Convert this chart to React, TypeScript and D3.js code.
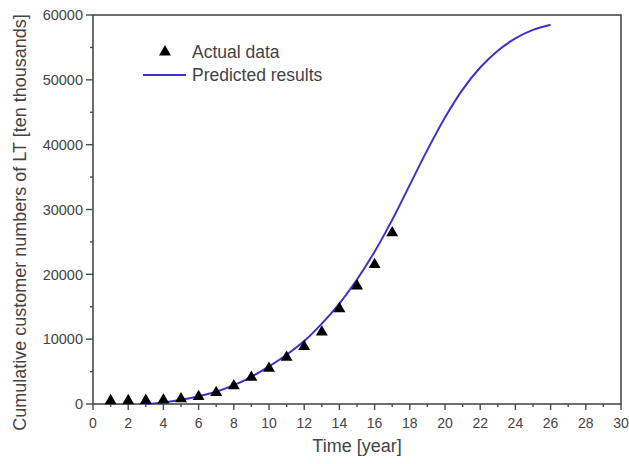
import React from "react";
import * as d3 from "d3";

// actual data (year, cumulative customers in ten thousands)
const actualYears = [1, 2, 3, 4, 5, 6, 7, 8, 9, 10, 11, 12, 13, 14, 15, 16, 17];
const actualValues = [500, 500, 550, 600, 800, 1150, 1750, 2800, 4100, 5500, 7200, 8850, 11100, 14700, 18200, 21500, 26400];

// predicted curve
const predYears = [3, 4, 5, 6, 7, 8, 9, 10, 11, 12, 13, 14, 15, 16, 17, 18, 19, 20, 21, 22, 23, 24, 25, 26];
const predValues = [0, 250, 650, 1200, 1900, 2900, 4200, 5800, 7600, 9700, 12400, 15500, 19200, 23500, 28400, 33800, 39200, 44200, 48500, 51900, 54500, 56400, 57700, 58500];

const xTicks = d3.range(0, 31, 2);
const yTicks = d3.range(0, 60001, 10000);

const width = 629;
const height = 464;
const margin = { left: 93, right: 8, top: 15, bottom: 60 };

const App = () => {
  const xScale = d3
    .scaleLinear()
    .domain([0, 30])
    .range([margin.left, width - margin.right]);

  const yScale = d3
    .scaleLinear()
    .domain([0, 60000])
    .range([height - margin.bottom, margin.top]);

  const line = d3
    .line<number>()
    .x((d, i) => xScale(predYears[i]))
    .y((d) => yScale(d))
    .curve(d3.curveCatmullRom);

  const tri = d3.symbol().type(d3.symbolTriangle).size(62)();

  const x0 = xScale(0);
  const x1 = xScale(30);
  const y0 = yScale(0);
  const y1 = yScale(60000);
  const font = "Arial, 'Liberation Sans', sans-serif";
  const axisColor = "#4a4a4a";
  const textColor = "#444";

  return (
    <svg
      width={width}
      height={height}
      style={{ position: "absolute", left: 0, top: 0, background: "#fff" }}
      fontFamily={font}
    >
      {/* frame */}
      <rect x={x0} y={y1} width={x1 - x0} height={y0 - y1} fill="none" stroke={axisColor} strokeWidth={1.6} />

      {/* x ticks */}
      {d3.range(0, 31, 1).map((t) => (
        <line
          key={"xt" + t}
          x1={xScale(t)}
          x2={xScale(t)}
          y1={y0}
          y2={y0 + (t % 2 === 0 ? 6 : 3)}
          stroke={axisColor}
          strokeWidth={1.4}
        />
      ))}
      {xTicks.map((t) => (
        <text key={"xl" + t} x={xScale(t)} y={y0 + 24} textAnchor="middle" fontSize={14} fill={textColor}>
          {t}
        </text>
      ))}

      {/* y ticks */}
      {d3.range(0, 60001, 5000).map((t) => (
        <line
          key={"yt" + t}
          x1={x0}
          x2={x0 - (t % 10000 === 0 ? 7 : 3)}
          y1={yScale(t)}
          y2={yScale(t)}
          stroke={axisColor}
          strokeWidth={1.4}
        />
      ))}
      {yTicks.map((t) => (
        <text key={"yl" + t} x={x0 - 10} y={yScale(t)} dy="0.36em" textAnchor="end" fontSize={14.5} fill={textColor}>
          {t}
        </text>
      ))}

      {/* axis titles */}
      <text x={(x0 + x1) / 2} y={height - 12} textAnchor="middle" fontSize={18} fill={textColor}>
        Time [year]
      </text>
      <text
        transform={`translate(26, ${(y0 + y1) / 2 + 13}) rotate(-90)`}
        textAnchor="middle"
        fontSize={18}
        fill={textColor}
      >
        Cumulative customer numbers of LT [ten thousands]
      </text>

      {/* predicted curve */}
      <path d={line(predValues) || ""} fill="none" stroke="#3d33c8" strokeWidth={2} />

      {/* actual points */}
      {actualValues.map((v, i) => (
        <path key={"p" + i} d={tri || ""} transform={`translate(${xScale(actualYears[i])}, ${yScale(v)})`} fill="#000" />
      ))}

      {/* legend */}
      <path d={tri || ""} transform="translate(165, 52)" fill="#000" />
      <text x={192} y={58} fontSize={17.5} fill={textColor}>
        Actual data
      </text>
      <line x1={143} x2={186} y1={75} y2={75} stroke="#3d33c8" strokeWidth={2} />
      <text x={192} y={81} fontSize={17.5} fill={textColor}>
        Predicted results
      </text>
    </svg>
  );
};

export default App;
